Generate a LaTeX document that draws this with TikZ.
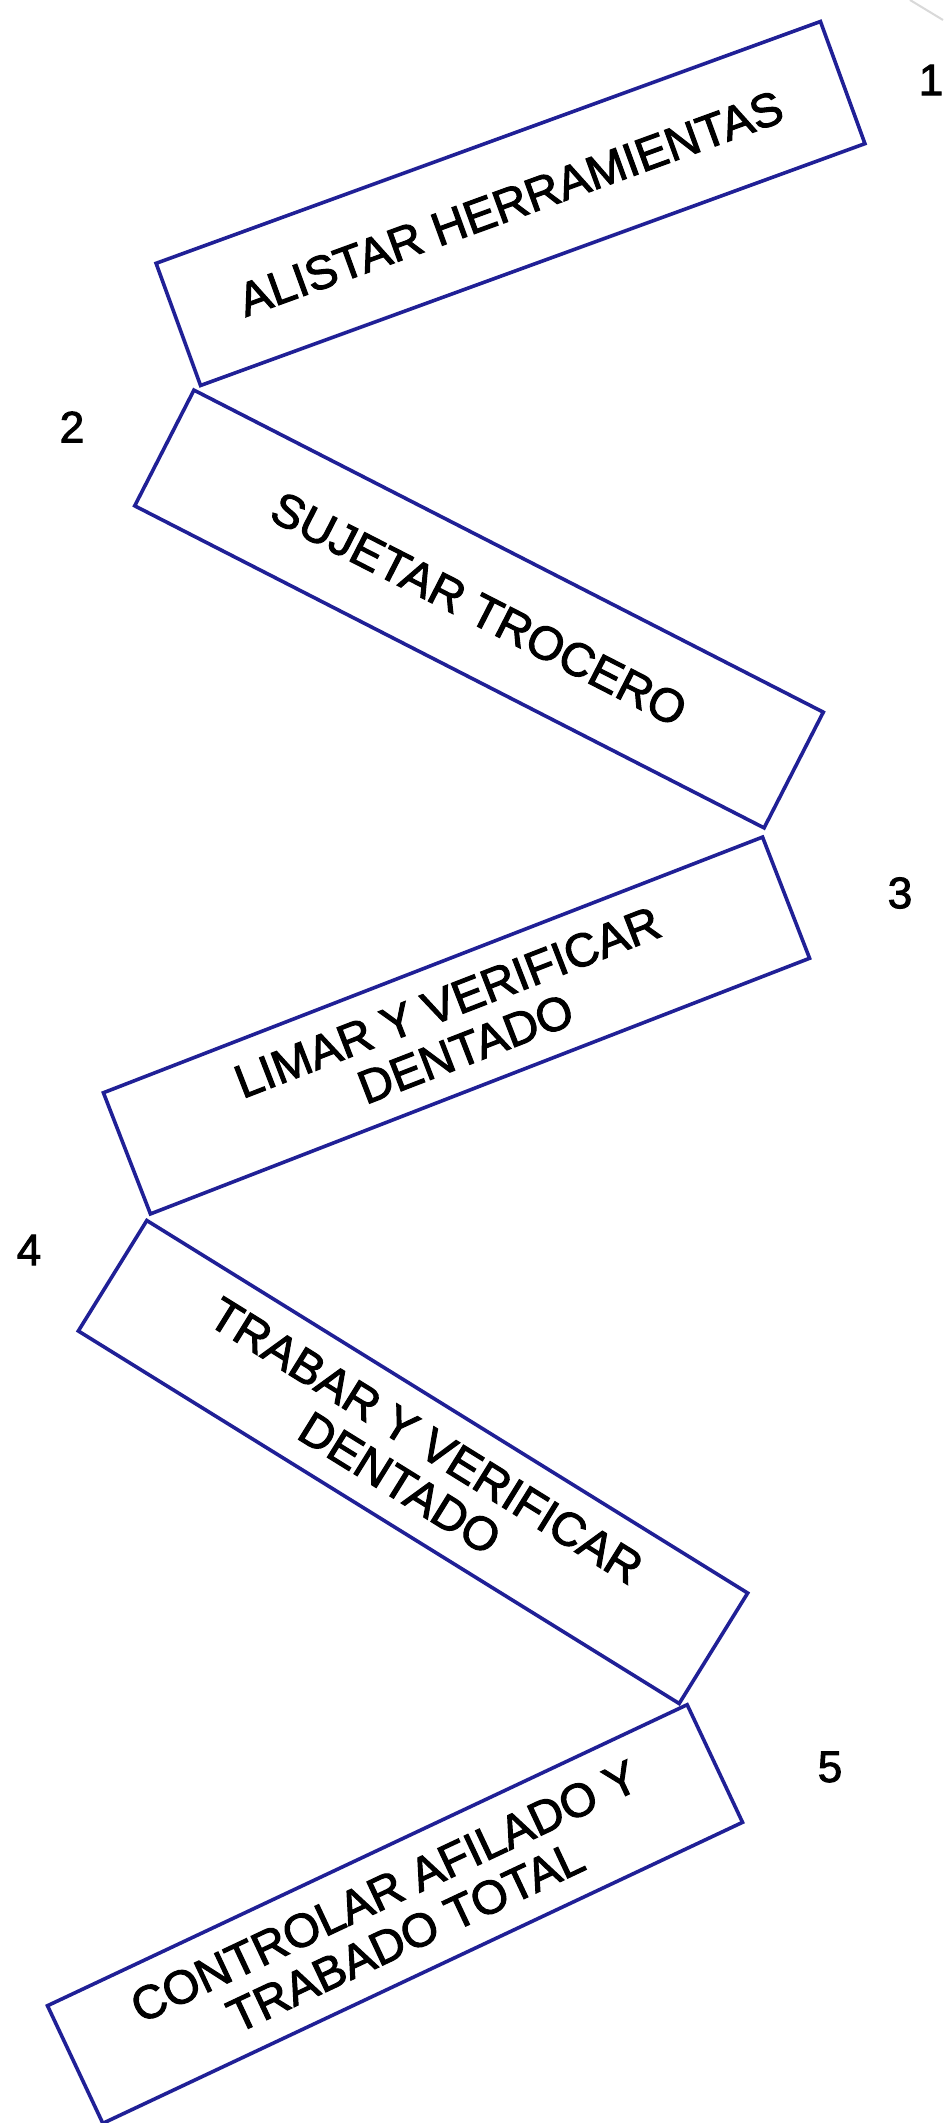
\documentclass[tikz,border=0pt]{standalone}
\usepackage{fontspec}
\setmainfont{Liberation Sans}[UprightFeatures={FakeBold=2.2}]
\definecolor{boxblue}{RGB}{32,32,150}
\begin{document}
\begin{tikzpicture}[x=0.5pt,y=-0.5pt,
  stepbox/.style={draw=boxblue, line width=1.8pt, minimum width=353.5pt,
    minimum height=65pt, inner sep=0pt, align=center,
    font=\fontsize{23.5}{25}\selectfont},
  numlabel/.style={font=\fontsize{22}{22}\selectfont, inner sep=0pt}]
\useasboundingbox (0,0) rectangle (943,2123);
\fill[white] (0,0) rectangle (943,2123);
% faint scan edge at top right
\draw[gray!30, line width=1pt] (910,0) -- (943,20);
% steps
\node[stepbox, rotate=20]    (b1) at (510.5,203.5) {ALISTAR HERRAMIENTAS};
\node[stepbox, rotate=-27.1] (b2) at (479,609)     {SUJETAR TROCERO};
\node[stepbox, rotate=21.2]  (b3) at (456.5,1025.5) {LIMAR Y VERIFICAR\\DENTADO};
\node[stepbox, rotate=-31.8] (b4) at (413,1462)    {TRABAR Y VERIFICAR\\DENTADO};
\node[stepbox, rotate=25.2]  (b5) at (395,1914)    {CONTROLAR AFILADO Y\\TRABADO TOTAL};
% numbers
\node[numlabel] (n1) at (931,80)   {1};
\node[numlabel] (n2) at (72,427)   {2};
\node[numlabel] (n3) at (900,893)  {3};
\node[numlabel] (n4) at (29,1250)  {4};
\node[numlabel] (n5) at (830,1767) {5};
\end{tikzpicture}
\end{document}
